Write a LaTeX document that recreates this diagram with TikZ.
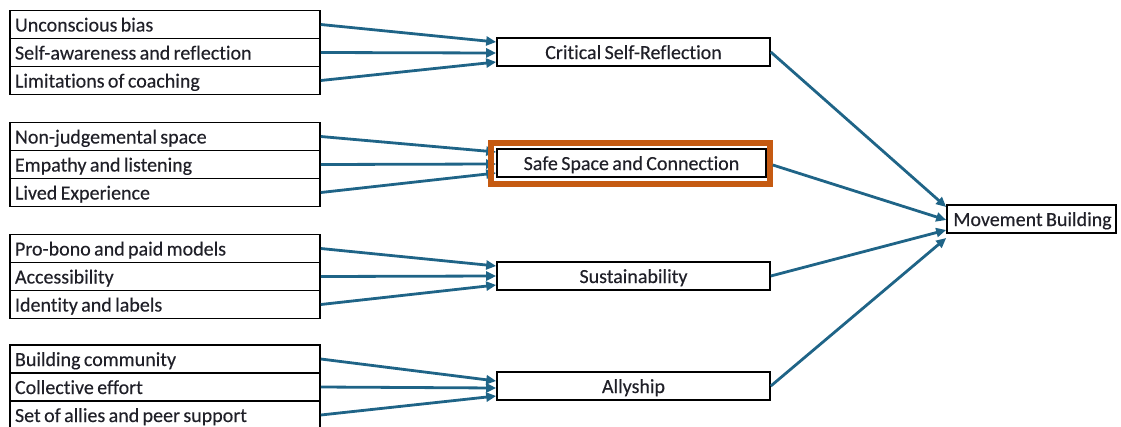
\documentclass[tikz,border=0pt]{standalone}
\usepackage{fontspec}
\setmainfont{Carlito}[Ligatures=NoCommon, WordSpace=0.75, FakeBold=0.3]
\usetikzlibrary{arrows.meta}
\definecolor{flowteal}{RGB}{31,100,135}
\definecolor{frameorange}{RGB}{197,90,17}
\definecolor{inktext}{RGB}{32,32,40}
% left-aligned text filling a list row
\newcommand{\rowcell}[1]{\makebox[300pt][l]{#1}}
\begin{document}
\begin{tikzpicture}[x=1pt,y=-1pt,
  txt/.style={font=\fontsize{20}{22}\selectfont, text=inktext,
    text height=14pt, text depth=0pt},
  item/.style={txt, draw=black, line width=1.6pt, minimum width=310pt,
    minimum height=28pt, inner xsep=5pt, inner ysep=0pt},
  theme/.style={txt, draw=black, line width=1.6pt, minimum width=273pt,
    minimum height=28pt, inner sep=0pt},
  flow/.style={draw=flowteal, line width=2.8pt,
    -{Triangle[length=10pt,width=9pt]}}]
\useasboundingbox (0,0) rectangle (1121,426);

% factor lists on the left
\node[item] (a1) at (165,24.5) {\rowcell{Unconscious bias}};
\node[item] (a2) at (165,52.5) {\rowcell{Self-awareness and reflection}};
\node[item] (a3) at (165,80.5) {\rowcell{Limitations of coaching}};

\node[item] (b1) at (165,136.5) {\rowcell{Non-judgemental space}};
\node[item] (b2) at (165,164.5) {\rowcell{Empathy and listening}};
\node[item] (b3) at (165,192.5) {\rowcell{Lived Experience}};

\node[item] (c1) at (165,248.5) {\rowcell{Pro-bono and paid models}};
\node[item] (c2) at (165,276.5) {\rowcell{Accessibility}};
\node[item] (c3) at (165,304.5) {\rowcell{Identity and labels}};

\node[item] (d1) at (165,359) {\rowcell{Building community}};
\node[item] (d2) at (165,387) {\rowcell{Collective effort}};
\node[item] (d3) at (165,415) {\rowcell{Set of allies and peer support}};

% themes
\node[theme] (crit) at (633.5,52) {Critical Self-Reflection};
\node[theme, minimum width=269pt] (safe) at (631.5,163) {Safe Space and Connection};
\node[theme] (sust) at (633.5,276) {Sustainability};
\node[theme] (ally) at (633.5,386) {Allyship};

% outcome
\node[theme, minimum width=169pt] (move) at (1031.5,219) {\hspace*{2pt}Movement Building};

% factors into themes
\draw[flow] (a1.east) -- ([yshift=10pt]crit.west);
\draw[flow] (a2.east) -- ([yshift=-1pt]crit.west);
\draw[flow] (a3.east) -- ([yshift=-10pt]crit.west);

\draw[flow] (b1.east) -- ([yshift=11pt]safe.west);
\draw[flow] (b2.east) -- ([yshift=-1pt]safe.west);
\draw[flow] (b3.east) -- ([yshift=-10pt]safe.west);

\draw[flow] (c1.east) -- ([yshift=10pt]sust.west);
\draw[flow] (c2.east) -- (sust.west);
\draw[flow] (c3.east) -- ([yshift=-9pt]sust.west);

\draw[flow] (d1.east) -- ([yshift=5pt]ally.west);
\draw[flow] (d2.east) -- ([yshift=-2pt]ally.west);
\draw[flow] (d3.east) -- ([yshift=-10pt]ally.west);

% highlight frame round the safe-space theme
\draw[frameorange, line width=6pt]
  ([shift={(-5,-5)}]safe.north west) rectangle ([shift={(3,6)}]safe.south east);

% themes into the outcome
\draw[flow] (crit.east) -- ([yshift=12pt]move.west);
\draw[flow] ([xshift=6pt,yshift=-2pt]safe.east) -- ([yshift=-1pt]move.west);
\draw[flow] (sust.east) -- ([yshift=-11pt]move.west);
\draw[flow] (ally.east) -- ([yshift=-19pt]move.west);
\end{tikzpicture}
\end{document}
